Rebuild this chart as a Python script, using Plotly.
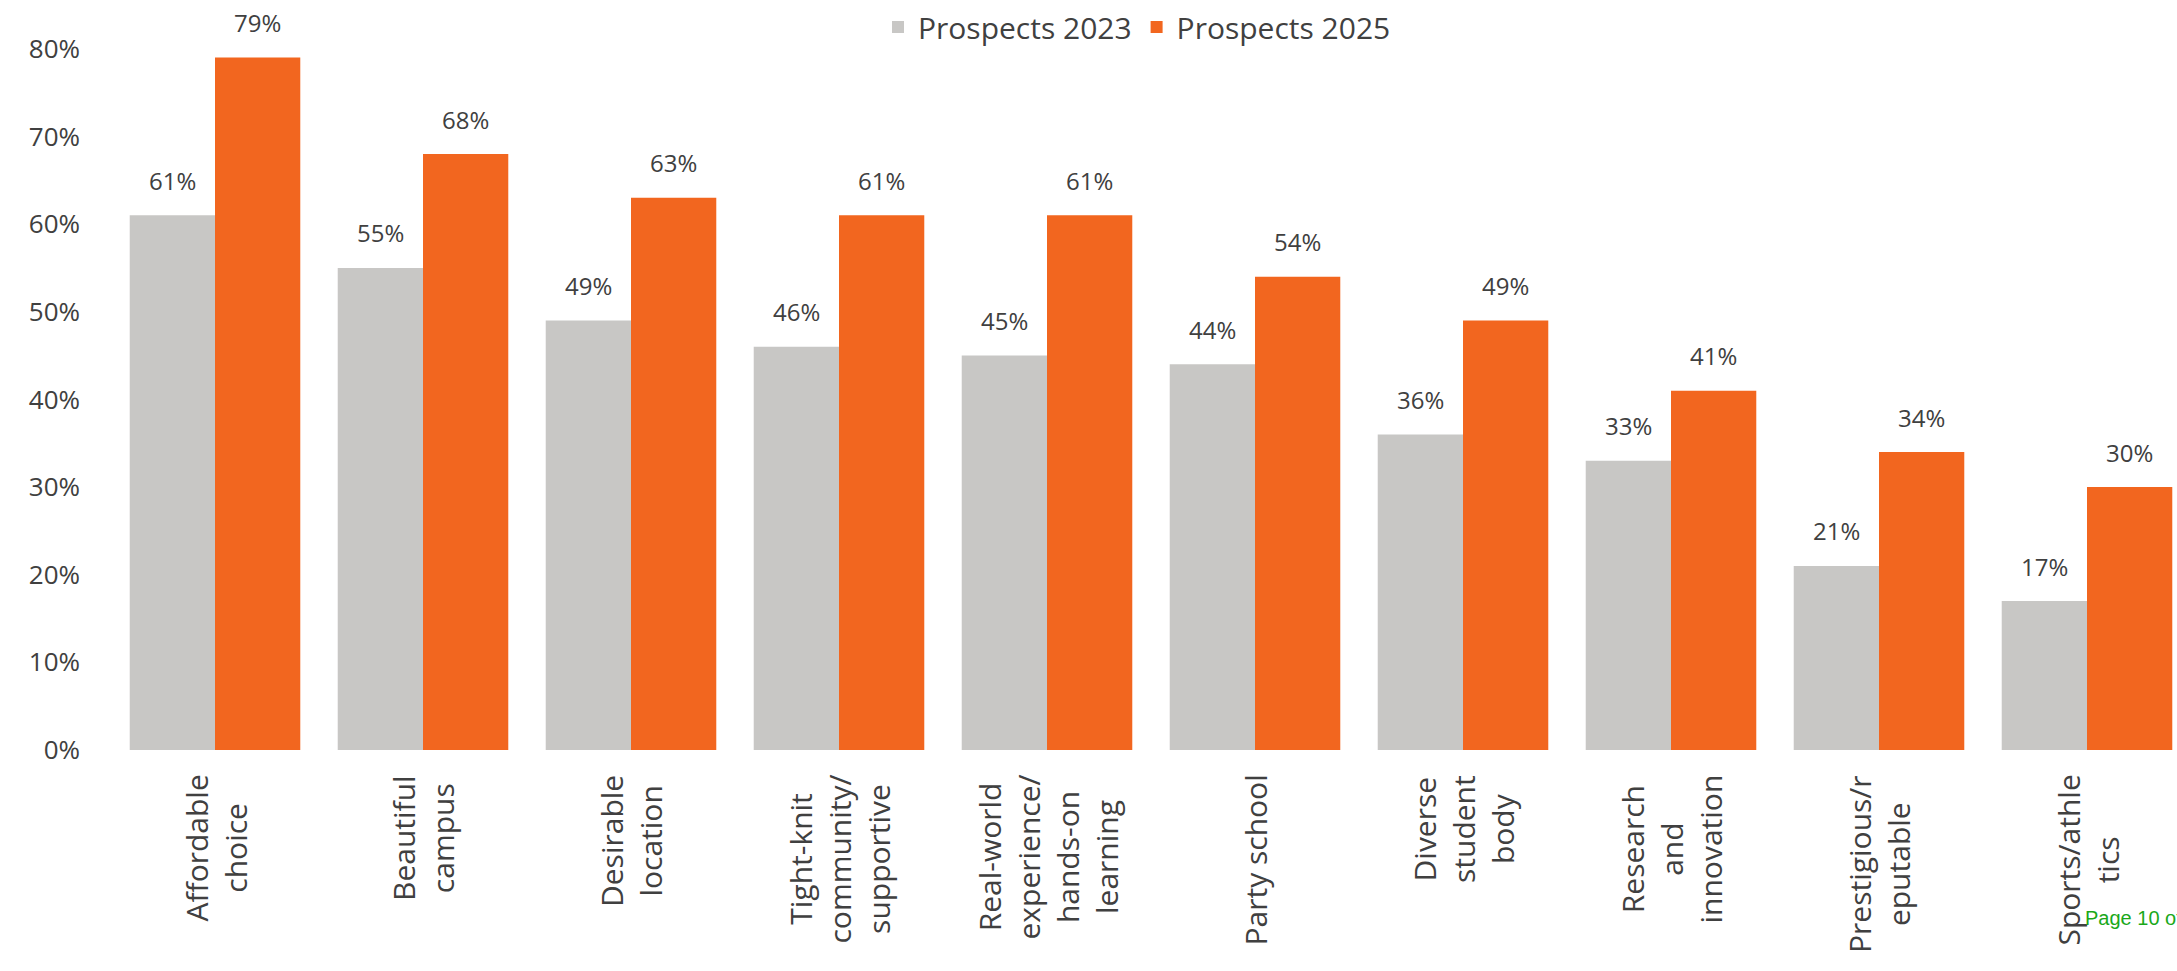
import plotly.graph_objects as go

# Survey data: share of prospects selecting each attribute
categories = [
    "Affordable<br>choice",
    "Beautiful<br>campus",
    "Desirable<br>location",
    "Tight-knit<br>community/<br>supportive",
    "Real-world<br>experience/<br>hands-on<br>learning",
    "Party school",
    "Diverse<br>student<br>body",
    "Research<br>and<br>innovation",
    "Prestigious/r<br>eputable",
    "Sports/athle<br>tics",
]
prospects_2023 = [61, 55, 49, 46, 45, 44, 36, 33, 21, 17]
prospects_2025 = [79, 68, 63, 61, 61, 54, 49, 41, 34, 30]
y_ticks = [0, 10, 20, 30, 40, 50, 60, 70, 80]
y_tick_labels = [f"{v}%" for v in y_ticks]

GRAY = "#c8c7c5"
ORANGE = "#f2661f"
TEXT = "#404040"
FONT = "Open Sans"

W, H = 2177, 971
M_L, M_R, M_T, M_B = 111, 0, 5, 221
plot_w = W - M_L - M_R
cat_px = 208.0  # width of one category slot in pixels
x_max = -0.5 + plot_w / cat_px

fig = go.Figure()
fig.add_trace(go.Bar(x=list(range(len(categories))), y=prospects_2023,
                     name="Prospects 2023", marker=dict(color=GRAY, line=dict(width=0))))
fig.add_trace(go.Bar(x=list(range(len(categories))), y=prospects_2025,
                     name="Prospects 2025", marker=dict(color=ORANGE, line=dict(width=0))))

bar_px = cat_px * (1 - 0.18) / 2
annotations = []
# value labels above each bar
for i in range(len(categories)):
    for vals, sign in ((prospects_2023, -1), (prospects_2025, 1)):
        annotations.append(dict(
            x=i, y=vals[i], xref="x", yref="y", text=f"{vals[i]}%",
            showarrow=False, xshift=sign * bar_px / 2, yshift=35,
            yanchor="middle", xanchor="center",
            font=dict(family=FONT, size=24, color=TEXT)))
# rotated category labels below the axis
for i, cat in enumerate(categories):
    annotations.append(dict(
        x=i, y=-23 / (H - M_T - M_B), xref="x", yref="paper", text=cat,
        showarrow=False, textangle=-90, xanchor="center", yanchor="top",
        align="center", font=dict(family=FONT, size=30, color=TEXT)))
# page footer
annotations.append(dict(
    x=(2083 - M_L) / plot_w, y=-(918 - 750) / (H - M_T - M_B), xref="paper", yref="paper",
    text="Page 10 of", showarrow=False, xanchor="left", yanchor="middle",
    font=dict(family="Liberation Sans", size=20, color="#1aa81a")))

fig.update_layout(
    width=W, height=H,
    margin=dict(l=M_L, r=M_R, t=M_T, b=M_B),
    paper_bgcolor="white", plot_bgcolor="white",
    barmode="group", bargap=0.18, bargroupgap=0,
    font=dict(family=FONT, color=TEXT),
    showlegend=True,
    legend=dict(orientation="h", x=0.4966, y=(750 - 27) / (H - M_T - M_B),
                xanchor="center", yanchor="middle",
                font=dict(family=FONT, size=30, color=TEXT),
                itemwidth=30, bgcolor="rgba(0,0,0,0)"),
    xaxis=dict(range=[-0.5, x_max], showticklabels=False, showgrid=False,
               zeroline=False, showline=False, ticks=""),
    yaxis=dict(range=[0, 85], tickvals=y_ticks, ticktext=y_tick_labels,
               showgrid=False, zeroline=False, showline=False, ticks="",
               ticklabelstandoff=30,
               tickfont=dict(family=FONT, size=26, color=TEXT)),
    annotations=annotations,
)

fig.write_html("out.html")
